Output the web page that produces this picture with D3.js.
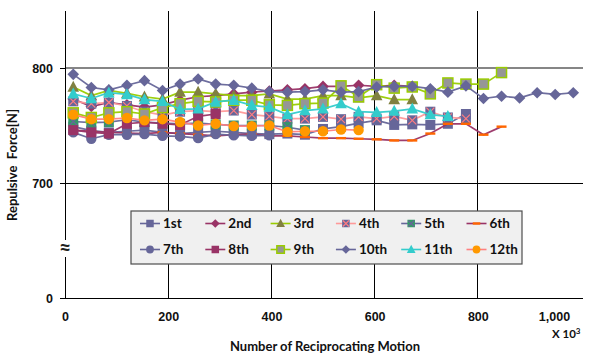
<!DOCTYPE html>
<html>
<head>
<meta charset="utf-8">
<script src="https://cdn.jsdelivr.net/npm/d3@7"></script>
<style>
  html, body { margin: 0; padding: 0; background: #fff; }
  svg { display: block; font-family: Lato, "Open Sans", sans-serif; }
</style>
</head>
<body>
<svg id="chart" width="592" height="354"></svg>
<script>
// Cycle counts (x 10^3) at which the repulsive force was measured
const cycles = [16, 51, 85, 120, 154, 189, 223, 258, 292, 327, 362, 396, 431, 465, 500,
                535, 569, 604, 638, 673, 708, 742, 777, 811, 846, 881, 915, 950, 985];

// Repulsive force [N] for each test run
const run1  = [749, 745.5, 744, 745, 746, 744, 743, 744, 745, 744, 743, 742.5, 743, 742, 747,
               749, 752, 754.5, 750.5, 751, 750.5, 751.5, 760];
const run2  = [773, 766.5, 770, 768, 766, 768, 772, 775, 776, 777.5, 779, 780, 781, 782, 784,
               784, 785, 784, 785, 784];
const run3  = [783.5, 776, 780.5, 778, 775, 773, 779, 779, 777.5, 776, 776, 777.5, 773, 773, 776,
               776, 774, 776, 772.5, 772.5];
const run4  = [771, 769, 770, 767, 762, 759, 762, 763, 762, 763, 759.5, 758, 756, 756, 757.5,
               755.5, 757.5, 756, 758, 754.5, 762, 757, 756];
const run5  = [753.5, 752.5, 753, 755, 753, 752, 751.5, 752, 751, 750, 750, 750, 748.5, 746];
const run6  = [746, 745, 744, 743.5, 743, 744, 743, 742, 741, 742, 742.5, 741, 741, 740, 739,
               739, 738.5, 738, 737, 737, 743, 751.5, 751.5, 742, 749];
const run7  = [744, 738.5, 742, 742, 742.5, 741, 740.5, 739, 742.5, 741.5, 741, 741.5];
const run8  = [746, 744, 743, 751.5, 753, 751.5, 750.5, 758, 760];
const run9  = [761, 757, 761, 762, 760, 765.5, 769, 771, 770.5, 772, 772, 768, 767.5, 769, 769.5,
               784.5, 775, 785.5, 782.5, 783.5, 777.5, 787, 786, 786, 796];
const run10 = [794.5, 783, 781, 785, 789, 780.5, 786, 790.5, 786, 785, 782.5, 779.5, 779, 779.5, 781,
               779, 779.5, 783.5, 784, 784, 782, 779, 784.5, 773.5, 775.5, 774, 778.5, 777, 778.5];
const run11 = [777.5, 773.5, 778.5, 777, 772.5, 771, 764, 764.5, 770.5, 772, 767.5, 766, 759.5, 763, 764.5,
               769, 762, 761.5, 762.5, 764.5, 759.5, 758];
const run12 = [759.5, 755.5, 755.5, 756.5, 754.5, 755.5, 753, 750, 751.5, 749.5, 749.5, 750, 744.5, 745, 745,
               746.5, 746];

const seriesNames = ["1st", "2nd", "3rd", "4th", "5th", "6th", "7th", "8th", "9th", "10th", "11th", "12th"];
const seriesValues = [run1, run2, run3, run4, run5, run6, run7, run8, run9, run10, run11, run12];

const xTicks = [0, 200, 400, 600, 800, 1000];
const yTicks = [600, 700, 800];          // the lowest tick stands for 0 across the axis break
const yTickLabels = ["0", "700", "800"];

// Marker and line styling per run
const styles = [
  { line: "#666699", shape: "square",  fill: "#666699" },
  { line: "#993366", shape: "diamond", fill: "#993366" },
  { line: "#99cc00", shape: "triangle", fill: "#808040" },
  { line: "#ff9999", shape: "square",  fill: "#666699", cross: "#ff7c80" },
  { line: "#666699", shape: "square",  fill: "#339966", cross: "#666699" },
  { line: "#993366", shape: "dash",    fill: "#ff6600" },
  { line: "#666699", shape: "circle",  fill: "#666699" },
  { line: "#993366", shape: "square",  fill: "#993366" },
  { line: "#99cc00", shape: "square",  fill: "#969696", stroke: "#99cc00" },
  { line: "#666699", shape: "diamond", fill: "#666699" },
  { line: "#33cccc", shape: "triangle", fill: "#33cccc" },
  { line: "#ff8080", shape: "circle",  fill: "#ff9900" }
];

const svg = d3.select("#chart");
const x = d3.scaleLinear().domain([0, 1000]).range([65, 581]);
const y = d3.scaleLinear().domain([600, 850]).range([298, 10.5]);

// Grid
const grid = svg.append("g");
grid.selectAll("line.v").data([200, 400, 600, 800]).join("line")
  .attr("x1", d => x(d)).attr("x2", d => x(d))
  .attr("y1", y(850)).attr("y2", y(600))
  .attr("stroke", "#000").attr("stroke-width", 1).attr("shape-rendering", "crispEdges");
grid.append("line")
  .attr("x1", x(0)).attr("x2", 583).attr("y1", y(700)).attr("y2", y(700))
  .attr("stroke", "#000").attr("stroke-width", 1).attr("shape-rendering", "crispEdges");
grid.append("line")
  .attr("x1", x(0)).attr("x2", 583).attr("y1", y(800)).attr("y2", y(800))
  .attr("stroke", "#868686").attr("stroke-width", 2).attr("shape-rendering", "crispEdges");

// Axes
const yAxis = svg.append("g").attr("transform", `translate(${x(0)},0)`)
  .call(d3.axisLeft(y).tickValues(yTicks).tickSize(5).tickSizeOuter(0).tickPadding(7)
    .tickFormat((d, i) => yTickLabels[i]));
yAxis.select(".domain").attr("stroke", "#000");
yAxis.selectAll("text").attr("font-size", 12.5).attr("font-weight", "bold").attr("fill", "#111");

const xAxis = svg.append("g").attr("transform", `translate(0,${y(600)})`)
  .call(d3.axisBottom(x).tickValues(xTicks).tickSize(0).tickSizeOuter(0).tickPadding(14)
    .tickFormat(d3.format(",")));
xAxis.select(".domain").attr("stroke", "#000").attr("d", `M${x(0)},0.5H583`);
xAxis.selectAll("text").attr("font-size", 12.5).attr("font-weight", "bold").attr("fill", "#111");
xAxis.selectAll(".tick").filter(d => d === 1000).select("text").attr("dx", -27);

// Axis break mark on the value axis
svg.append("rect").attr("x", 59).attr("y", 240).attr("width", 13).attr("height", 17).attr("fill", "#fff");
svg.append("text").attr("x", 65).attr("y", 255).attr("text-anchor", "middle")
  .attr("font-size", 21).attr("font-weight", "bold").attr("fill", "#222").text("≈");

// Series
function drawMarker(g, st, cx, cy, scale) {
  const s = scale;
  if (st.shape === "square") {
    g.append("rect").attr("x", cx - 5 * s).attr("y", cy - 5 * s)
      .attr("width", 10 * s).attr("height", 10 * s).attr("fill", st.fill)
      .attr("stroke", st.stroke || "none").attr("stroke-width", st.stroke ? 1.5 : 0);
    if (st.cross) {
      g.append("path")
        .attr("d", `M${cx - 4 * s},${cy - 4 * s}L${cx + 4 * s},${cy + 4 * s}M${cx + 4 * s},${cy - 4 * s}L${cx - 4 * s},${cy + 4 * s}`)
        .attr("stroke", st.cross).attr("stroke-width", 1.2).attr("fill", "none");
    }
  } else if (st.shape === "diamond") {
    g.append("path").attr("d", `M${cx},${cy - 5.8 * s}L${cx + 5.8 * s},${cy}L${cx},${cy + 5.8 * s}L${cx - 5.8 * s},${cy}Z`)
      .attr("fill", st.fill);
  } else if (st.shape === "triangle") {
    g.append("path").attr("d", `M${cx},${cy - 6.3 * s}L${cx + 5.8 * s},${cy + 4.7 * s}L${cx - 5.8 * s},${cy + 4.7 * s}Z`)
      .attr("fill", st.fill);
  } else if (st.shape === "circle") {
    g.append("circle").attr("cx", cx).attr("cy", cy).attr("r", 5.2 * s).attr("fill", st.fill);
  } else if (st.shape === "dash") {
    g.append("rect").attr("x", cx - 5 * s).attr("y", cy - 1.2).attr("width", 10 * s).attr("height", 2.4)
      .attr("fill", st.fill);
  }
}

const line = d3.line().x((d, i) => x(cycles[i])).y(d => y(d));
const plot = svg.append("g");
seriesValues.forEach((vals, k) => {
  const st = styles[k];
  const g = plot.append("g");
  g.append("path").attr("d", line(vals)).attr("fill", "none")
    .attr("stroke", st.line).attr("stroke-width", 1.7).attr("opacity", 0.95);
  vals.forEach((v, i) => drawMarker(g, st, x(cycles[i]), y(v), 1));
});

// Legend
const legend = svg.append("g");
legend.append("rect").attr("x", 131).attr("y", 211).attr("width", 391).attr("height", 53)
  .attr("fill", "#f0f0f0").attr("stroke", "#4d4d4d").attr("stroke-width", 1.2);
seriesNames.forEach((name, k) => {
  const col = k % 6, row = Math.floor(k / 6);
  const cx = 150 + col * 65.3, cy = 223.5 + row * 26;
  const st = styles[k];
  const item = legend.append("g");
  item.append("line").attr("x1", cx - 10).attr("x2", cx + 10).attr("y1", cy).attr("y2", cy)
    .attr("stroke", st.line).attr("stroke-width", 1.6);
  drawMarker(item, st, cx, cy, 0.75);
  item.append("text").attr("x", cx + 13).attr("y", cy).attr("dy", "0.35em")
    .attr("font-size", 13.5).attr("font-weight", "bold").attr("fill", "#111").text(name);
});

// Titles
svg.append("text").attr("transform", "translate(17,165) rotate(-90)").attr("text-anchor", "middle")
  .attr("font-size", 13).attr("font-weight", "bold").attr("fill", "#111")
  .attr("xml:space", "preserve").style("white-space", "pre").text("Repulsive  Force[N]");
svg.append("text").attr("x", 325).attr("y", 351).attr("text-anchor", "middle")
  .attr("font-size", 13).attr("font-weight", "bold").attr("fill", "#111")
  .text("Number of Reciprocating Motion");
const unit = svg.append("text").attr("x", 552).attr("y", 338)
  .attr("font-size", 11.5).attr("font-weight", "bold").attr("fill", "#111");
unit.append("tspan").text("X 10");
unit.append("tspan").attr("dy", -4).attr("font-size", 8).text("3");
</script>
</body>
</html>
